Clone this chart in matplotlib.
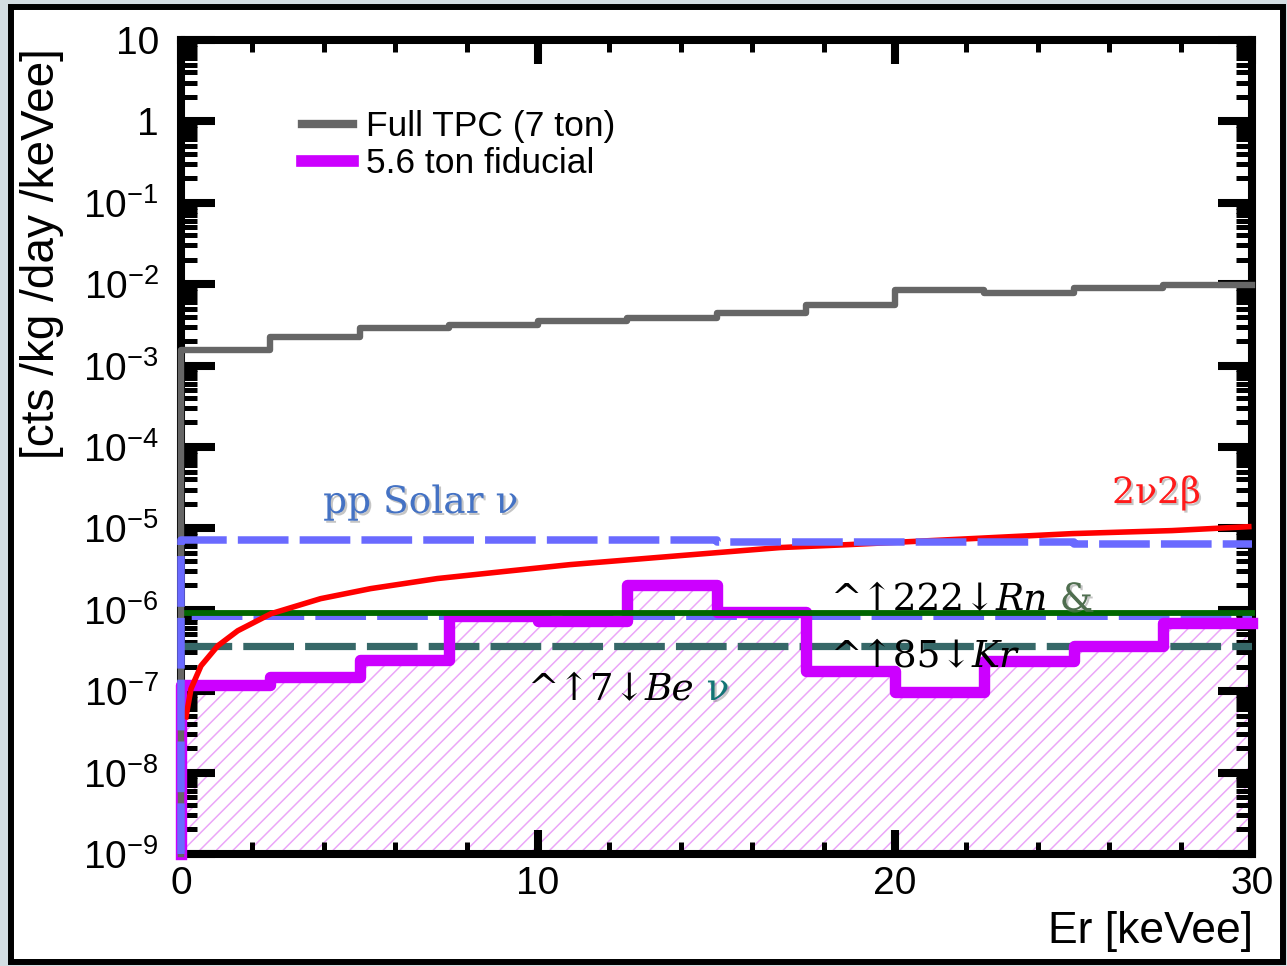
import matplotlib.pyplot as plt
import matplotlib.patheffects as pe
from matplotlib.patches import Rectangle
from matplotlib.ticker import LogLocator, MultipleLocator, NullFormatter

plt.rcParams['font.family'] = ['Liberation Sans', 'DejaVu Sans']
plt.rcParams['mathtext.fontset'] = 'custom'
plt.rcParams['mathtext.rm'] = 'Liberation Sans'
plt.rcParams['mathtext.it'] = 'Liberation Sans:italic'
plt.rcParams['lines.scale_dashes'] = False
plt.rcParams['hatch.linewidth'] = 1.1
plt.rcParams['hatch.color'] = '#eba6f8'

# ── data ─────────────────────────────────────────────────
BIN_EDGES = [0.0, 2.5, 5.0, 7.5, 10.0, 12.5, 15.0, 17.5, 20.0, 22.5, 25.0, 27.5, 30.0]
FULL_TPC  = [1.54e-3, 2.22e-3, 2.91e-3, 3.17e-3, 3.50e-3, 3.86e-3,
             4.45e-3, 5.58e-3, 8.54e-3, 7.73e-3, 8.91e-3, 9.84e-3]
FIDUCIAL  = [1.20e-7, 1.50e-7, 2.40e-7, 8.45e-7, 7.34e-7, 2.04e-6,
             9.48e-7, 1.78e-7, 9.84e-8, 2.36e-7, 3.61e-7, 6.93e-7]
PP_SOLAR  = [7.3e-6, 7.3e-6, 7.3e-6, 7.3e-6, 7.3e-6, 7.3e-6,
             6.9e-6, 6.9e-6, 6.9e-6, 6.9e-6, 6.4e-6, 6.4e-6]
PP_SOLAR_FID = 8.2e-7
RN_KR        = 9.1e-7
BE7          = 3.6e-7
E_RANGE      = [0.0, 30.0]

E_2NU2B = [0.14, 0.28, 0.56, 1.03, 1.59, 2.52, 3.91, 5.31, 7.18, 9.03,
           10.9, 13.98, 16.77, 18.73, 22.17, 24.97, 27.76, 29.91]
R_2NU2B = [4.85e-8, 1.07e-7, 2.05e-7, 3.61e-7, 5.53e-7, 8.95e-7, 1.37e-6,
           1.82e-6, 2.42e-6, 2.95e-6, 3.59e-6, 4.63e-6, 5.81e-6, 6.33e-6,
           7.50e-6, 8.63e-6, 9.40e-6, 1.05e-5]

Y_TICKS = [1e1, 1e0, 1e-1, 1e-2, 1e-3, 1e-4, 1e-5, 1e-6, 1e-7, 1e-8, 1e-9]
Y_TICK_LABELS = ['10', '1', r'$10^{-1}$', r'$10^{-2}$', r'$10^{-3}$', r'$10^{-4}$',
                 r'$10^{-5}$', r'$10^{-6}$', r'$10^{-7}$', r'$10^{-8}$', r'$10^{-9}$']
X_TICKS = [0, 10, 20, 30]
X_TICK_LABELS = ['0', '10', '20', '30']
YMIN, YMAX = 1e-9, 10

W, H = 1287, 966


def hist_xy(values):
    # step outline with a left edge dropping to the bottom of the axis
    xs = [BIN_EDGES[0]] + BIN_EDGES
    ys = [YMIN] + list(values) + [values[-1]]
    return xs, ys


fig = plt.figure(figsize=(W / 100, H / 100), dpi=100, facecolor='#d3dde2')
fig.patches.append(Rectangle((11 / W, (H - 962) / H), (1283 - 11) / W, (962 - 7) / H,
                             transform=fig.transFigure, facecolor='white',
                             edgecolor='black', linewidth=4.3, zorder=-1))

ax = fig.add_axes([181 / W, (H - 854) / H, (1252 - 181) / W, (854 - 40) / H])
ax.set_yscale('log')
ax.set_xlim(E_RANGE)
ax.set_ylim(YMIN, YMAX)

# hatched fiducial area
ax.fill_between(BIN_EDGES, FIDUCIAL + [FIDUCIAL[-1]], YMIN, step='post',
                facecolor='none', edgecolor='#eba6f8', hatch='//', linewidth=0, zorder=1)

dash = (0, (36.5, 8))
ax.plot([E_RANGE[0]] + E_RANGE, [YMIN, PP_SOLAR_FID, PP_SOLAR_FID], color='#6a6aff',
        lw=3.6, ls=dash, zorder=2.6)
ax.plot(E_RANGE, [BE7, BE7], color='#366868', lw=5.2, ls=dash, zorder=2.7)

xs, ys = hist_xy(FIDUCIAL)
h_fid, = ax.plot(xs, ys, drawstyle='steps-post', color='#cc00ff', lw=8.2,
                 zorder=3, clip_on=False, label='5.6 ton fiducial')
ax.plot([E_RANGE[0]] + E_RANGE, [YMIN, RN_KR, RN_KR], color='#006600', lw=4.2,
        zorder=3.2, clip_on=False)

xs, ys = hist_xy(FULL_TPC)
h_full, = ax.plot(xs, ys, drawstyle='steps-post', color='#666666', lw=4.6,
                  zorder=3.3, clip_on=False, label='Full TPC (7 ton)')

ax.plot(E_2NU2B, R_2NU2B, color='#ff0000', lw=4, zorder=3.4)

xs, ys = hist_xy(PP_SOLAR)
ax.plot(xs, ys, drawstyle='steps-post', color='#6a6aff', lw=5.4, ls=dash,
        zorder=3.5, clip_on=False)

# axes styling (ROOT look)
for s in ax.spines.values():
    s.set_linewidth(5.8)
ax.set_yticks(Y_TICKS, Y_TICK_LABELS)
ax.yaxis.set_minor_locator(LogLocator(base=10, subs=[2, 3, 4, 5, 6, 7, 8, 9], numticks=30))
ax.yaxis.set_minor_formatter(NullFormatter())
ax.set_xticks(X_TICKS, X_TICK_LABELS)
ax.xaxis.set_minor_locator(MultipleLocator(2))
ax.tick_params(which='both', direction='in', top=True, right=True, labelsize=28,
               color='black')
ax.tick_params(axis='y', which='major', length=24.5, width=5.8, pad=16)
ax.tick_params(axis='y', which='minor', length=11.5, width=3.6)
ax.tick_params(axis='x', which='major', length=17, width=5.8, pad=9)
ax.tick_params(axis='x', which='minor', length=8.6, width=3.6)

fig.text(42 / W, 1 - 254 / H, '[cts /kg /day /keVee]', rotation=90,
         ha='center', va='center', fontsize=33)
fig.text(1253 / W, 1 - 932 / H, 'Er [keVee]', ha='right', va='center', fontsize=32)

leg = ax.legend(handles=[h_full, h_fid], loc='upper left',
                bbox_to_anchor=(302 / W, 1 - 110 / H), bbox_transform=fig.transFigure,
                frameon=False, fontsize=25.5, handlelength=1.44, handletextpad=0.37,
                labelspacing=0.12, borderpad=0, borderaxespad=0)
leg.get_lines()[0].set_linewidth(6)
leg.get_lines()[1].set_linewidth(8.4)

# annotations
shadow = [pe.withSimplePatchShadow(offset=(1.5, -1.5), shadow_rgbFace='#808080', alpha=0.45)]
serif = ['DejaVu Serif']

ax.text(3.98, 1.55e-5, 'pp Solar ν', color='#4472c4', family=serif, fontsize=27,
        va='baseline', path_effects=shadow, zorder=6)
ax.text(26.08, 2.05e-5, '2ν2β', color='#ff1a1a', family=serif, fontsize=26,
        va='baseline', path_effects=shadow, zorder=6)


def chain(x, y, parts):
    prev = ax.text(x, y, parts[0][0], va='baseline', family=serif, fontsize=27,
                   zorder=6, **parts[0][1])
    for s, kw in parts[1:]:
        prev = ax.annotate(s, xy=(1, 0), xycoords=prev, va='bottom', ha='left',
                           family=serif, fontsize=27, zorder=6, **kw)


chain(18.18, 9.95e-7, [('^↑222↓', {}), ('Rn', {'style': 'italic'}),
                       (' &', {'color': '#4f6e4f', 'path_effects': shadow})])
chain(18.18, 1.98e-7, [('^↑85↓', {}), ('Kr', {'style': 'italic'})])
chain(9.69, 7.8e-8, [('^↑7↓', {}), ('Be', {'style': 'italic'}),
                     (' ν', {'color': '#137575', 'path_effects': shadow})])

fig.savefig('out.png', dpi=100, facecolor=fig.get_facecolor())
